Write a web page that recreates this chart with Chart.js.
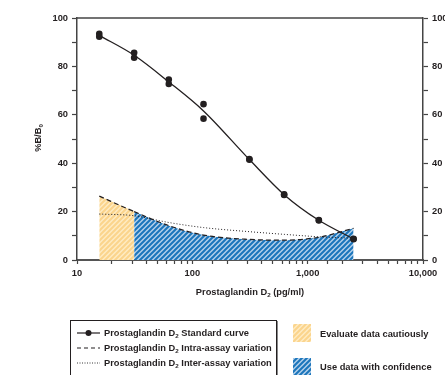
<!DOCTYPE html>
<html>
<head>
<meta charset="utf-8">
<title>Prostaglandin D2 standard curve</title>
<script src="https://cdn.jsdelivr.net/npm/chart.js@4/dist/chart.umd.min.js"></script>
<style>
  html, body { margin: 0; padding: 0; background: #fff; }
  #wrap { width: 445px; height: 375px; position: relative; }
</style>
</head>
<body>
<div id="wrap"><canvas id="myChart" width="445" height="375"></canvas></div>
<script>
'use strict'

// data
const concentrations = [15.6, 31.3, 62.5, 125, 312.5, 625, 1250, 2500]; // pg/ml
const standardRep1 = [93.5, 85.6, 74.6, 64.4, 41.7, 27.1, 16.5, 8.8]; // %B/B0, first well
const standardRep2 = [92.3, 83.6, 72.7, 58.4, 41.4, 26.9, 16.3, 8.6]; // %B/B0, second well
const standardCurve = [92.8, 84.6, 73.6, 61.6, 41.5, 27.0, 16.4, 8.7]; // fitted curve
const intraAssay = [26.4, 20.0, 14.2, 10.3, 8.5, 8.2, 9.4, 13.1]; // dashed line (%CV)
const interAssay = [19.0, 18.3, 15.5, 13.4, 11.7, 10.6, 9.6, 9.0]; // dotted line (%CV)

const xMajorTicks = [10, 100, 1000, 10000];
const xMajorLabels = ['10', '100', '1,000', '10,000'];
const yLabelEvery = 20; // labels at 0,20,...,100, ticks every 10

const ink = '#231f20';
const fontFamily = '"Liberation Sans", Arial, sans-serif';
const mainFont = 'bold 9.3px ' + fontFamily;
const subFont = 'bold 6.2px ' + fontFamily;

// makes a small tile with "/" stripes so the fill looks hatched
function makeHatch(bg, stripe) {
  let size = 5;
  let c = document.createElement('canvas');
  c.width = size;
  c.height = size;
  let g = c.getContext('2d');
  g.fillStyle = bg;
  g.fillRect(0, 0, size, size);
  g.strokeStyle = stripe;
  g.lineWidth = 2;
  g.beginPath();
  for (let k = -1; k <= 1; k++) {
    g.moveTo(k * size - 1, size + 1);
    g.lineTo(k * size + size + 1, -1);
  }
  g.stroke();
  return g.createPattern(c, 'repeat');
}

const yellowHatch = makeHatch('#feebc2', '#fbd48c');
const blueHatch = makeHatch('#b2cfea', '#1b75bb');

function toPoints(xs, ys) {
  return xs.map((x, i) => ({ x: x, y: ys[i] }));
}

// text with subscripts, parts = [[text, isSub], ...]
function richWidth(ctx, parts) {
  let w = 0;
  parts.forEach(p => {
    ctx.font = p[1] ? subFont : mainFont;
    w += ctx.measureText(p[0]).width;
  });
  return w;
}
function richText(ctx, parts, x, y) {
  let cx = x;
  parts.forEach(p => {
    ctx.font = p[1] ? subFont : mainFont;
    ctx.fillText(p[0], cx, p[1] ? y + 3 : y);
    cx += ctx.measureText(p[0]).width;
  });
}

// titles, top frame line and the legend are drawn by hand
const extras = {
  id: 'extras',
  afterDraw(chart) {
    const ctx = chart.ctx;
    const area = chart.chartArea;
    ctx.save();
    ctx.fillStyle = ink;
    ctx.textBaseline = 'middle';

    // top frame line
    ctx.strokeStyle = '#444';
    ctx.lineWidth = 1.5;
    ctx.beginPath();
    ctx.moveTo(area.left, area.top);
    ctx.lineTo(area.right, area.top);
    ctx.stroke();

    // x title
    let xTitle = [['Prostaglandin D', false], ['2', true], [' (pg/ml)', false]];
    let w = richWidth(ctx, xTitle);
    richText(ctx, xTitle, 250 - w / 2, 292);

    // y title, rotated
    let yTitle = [['%B/B', false], ['0', true]];
    ctx.save();
    ctx.translate(38, 138);
    ctx.rotate(-Math.PI / 2);
    w = richWidth(ctx, yTitle);
    richText(ctx, yTitle, -w / 2, 0);
    ctx.restore();

    // legend box
    ctx.strokeStyle = ink;
    ctx.lineWidth = 1;
    ctx.strokeRect(70.5, 320.5, 206, 70);
    ctx.strokeStyle = '#888';
    ctx.beginPath();
    ctx.moveTo(277.5, 321);
    ctx.lineTo(277.5, 375);
    ctx.stroke();

    let rows = [
      [['Prostaglandin D', false], ['2', true], [' Standard curve', false]],
      [['Prostaglandin D', false], ['2', true], [' Intra-assay variation', false]],
      [['Prostaglandin D', false], ['2', true], [' Inter-assay variation', false]]
    ];
    let dashes = [[], [4, 3], [1, 1.5]];
    rows.forEach((r, i) => {
      let y = 333 + i * 15;
      ctx.strokeStyle = ink;
      ctx.lineWidth = i === 2 ? 0.9 : 1.2;
      ctx.setLineDash(dashes[i]);
      ctx.beginPath();
      ctx.moveTo(77, y);
      ctx.lineTo(100, y);
      ctx.stroke();
      ctx.setLineDash([]);
      if (i === 0) {
        ctx.beginPath();
        ctx.arc(88.5, y, 3, 0, Math.PI * 2);
        ctx.fill();
      }
      richText(ctx, r, 104, y);
    });

    // hatch keys on the right
    ctx.fillStyle = yellowHatch;
    ctx.fillRect(293, 324, 18, 18);
    ctx.fillStyle = blueHatch;
    ctx.fillRect(293, 358, 18, 18);
    ctx.fillStyle = ink;
    ctx.font = mainFont;
    ctx.fillText('Evaluate data cautiously', 320, 334);
    ctx.fillText('Use data with confidence', 320, 367);

    ctx.restore();
  }
};

const axisGrid = {
  drawOnChartArea: false,
  drawTicks: true,
  tickLength: 5,
  tickWidth: 1.2,
  color: '#444'
};
const tickFont = { family: fontFamily, size: 9.3, weight: 'bold' };

const config = {
  type: 'line',
  data: {
    datasets: [
      {
        label: 'Standard wells',
        data: toPoints(concentrations, standardRep1).concat(toPoints(concentrations, standardRep2)),
        showLine: false,
        pointRadius: 3.3,
        pointBackgroundColor: ink,
        pointBorderWidth: 0
      },
      {
        label: 'Standard curve',
        data: toPoints(concentrations, standardCurve),
        borderColor: ink,
        borderWidth: 1.3,
        pointRadius: 0,
        cubicInterpolationMode: 'monotone'
      },
      {
        label: 'Inter-assay variation',
        data: toPoints(concentrations, interAssay),
        borderColor: ink,
        borderWidth: 1,
        borderDash: [1, 2],
        pointRadius: 0,
        cubicInterpolationMode: 'monotone'
      },
      {
        label: 'Intra-assay variation',
        data: toPoints(concentrations, intraAssay),
        borderColor: ink,
        borderWidth: 1.2,
        borderDash: [5, 3],
        pointRadius: 0,
        cubicInterpolationMode: 'monotone',
        fill: 'origin',
        backgroundColor: blueHatch,
        segment: {
          // first step (15.6 to 31.3) is the "evaluate cautiously" zone
          backgroundColor: ctx => ctx.p0DataIndex === 0 ? yellowHatch : undefined
        }
      }
    ]
  },
  options: {
    responsive: false,
    animation: false,
    events: [],
    layout: { padding: { top: 18, left: 0, right: 0, bottom: 0 } },
    plugins: {
      legend: { display: false },
      tooltip: { enabled: false }
    },
    scales: {
      x: {
        type: 'logarithmic',
        position: 'bottom',
        min: 10,
        max: 10000,
        grid: Object.assign({}, axisGrid, { tickLength: 4 }),
        border: { color: '#555', width: 2 },
        ticks: {
          autoSkip: false,
          maxRotation: 0,
          padding: 4,
          color: ink,
          font: tickFont,
          callback: function (value) {
            let idx = xMajorTicks.indexOf(Math.round(value));
            return idx >= 0 ? xMajorLabels[idx] : '';
          }
        },
        afterFit: s => { s.height = 115; }
      },
      y: {
        position: 'left',
        min: 0,
        max: 100,
        grid: axisGrid,
        border: { color: '#444', width: 1.5 },
        ticks: {
          stepSize: 10,
          padding: 4,
          color: ink,
          font: tickFont,
          callback: v => v % yLabelEvery === 0 ? v : ''
        },
        afterFit: s => { s.width = 77; }
      },
      y2: {
        position: 'right',
        min: 0,
        max: 100,
        grid: axisGrid,
        border: { color: '#444', width: 1.5 },
        ticks: {
          stepSize: 10,
          padding: 4,
          color: ink,
          font: tickFont,
          callback: v => v % yLabelEvery === 0 ? v : ''
        },
        afterFit: s => { s.width = 22; }
      }
    }
  },
  plugins: [extras]
};

let canvasChart = document.getElementById('myChart');
const myChart = new Chart(canvasChart, config);
</script>
</body>
</html>
